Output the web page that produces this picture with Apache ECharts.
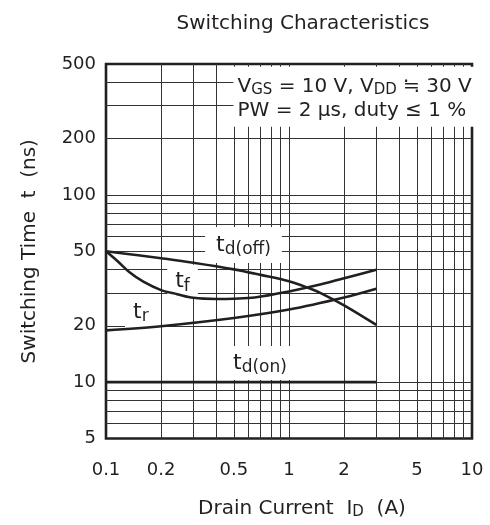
<!DOCTYPE html>
<html>
<head>
<meta charset="utf-8">
<script src="https://cdn.jsdelivr.net/npm/echarts@6/dist/echarts.min.js"></script>
<style>
html, body { margin: 0; padding: 0; background: #fff; }
#chart { width: 490px; height: 525px; }
</style>
</head>
<body>
<div id="chart"></div>
<script>
// values (x: drain current A, y: time ns)
const tdOffX = [0.1, 0.15, 0.2, 0.3, 0.5, 0.7, 1, 1.3, 1.5, 2, 3];
const tdOffY = [50, 47.6, 45.9, 43.4, 40, 37.4, 34.6, 31.6, 29.8, 25.7, 20.2];
const tfX = [0.1, 0.115, 0.135, 0.16, 0.2, 0.245, 0.3, 0.4, 0.5, 0.65, 1, 1.5, 2, 3];
const tfY = [50, 44.5, 38.5, 34.4, 31, 29.5, 28.2, 27.8, 27.9, 28.3, 30.5, 33.3, 35.9, 39.8];
const trX = [0.1, 0.2, 0.5, 1, 2, 3];
const trY = [18.9, 19.9, 22, 24.4, 28.3, 31.5];
const tdOnX = [0.1, 3];
const tdOnY = [10, 10];

const xTicks = [0.1, 0.2, 0.5, 1, 2, 5, 10];
const yTicks = [5, 10, 20, 50, 100, 200, 500];
const xGrid = [0.2, 0.3, 0.4, 0.5, 0.6, 0.7, 0.8, 0.9, 1, 2, 3, 4, 5, 6, 7, 8, 9];
const yGrid = [6, 7, 8, 9, 10, 20, 30, 40, 50, 60, 70, 80, 90, 100, 200, 300, 400];

const ink = '#231f20';
const font = 'DejaVu Sans';

function pairs(xs, ys) {
    return xs.map((x, i) => [x, ys[i]]);
}

function curve(name, xs, ys, smooth) {
    return {
        name: name,
        type: 'line',
        z: 4,
        smooth: smooth,
        showSymbol: false,
        silent: true,
        lineStyle: { color: ink, width: 2.6 },
        data: pairs(xs, ys)
    };
}

// t with a subscript, white box behind it
function tLabel(coord, sub, pad) {
    return {
        coord: coord,
        label: {
            show: true,
            position: 'inside',
            formatter: '{t|t}{s|' + sub + '}',
            backgroundColor: '#fff',
            padding: pad,
            rich: {
                t: { fontFamily: font, fontSize: 22, color: ink, lineHeight: 26 },
                s: { fontFamily: font, fontSize: 17, color: ink, lineHeight: 18, padding: [9, 0, 0, 0] }
            }
        }
    };
}

const chart = echarts.init(document.getElementById('chart'));
const option = {
    animation: false,
    backgroundColor: '#fff',
    title: {
        text: 'Switching Characteristics',
        left: 303,
        top: 14,
        padding: 0,
        textAlign: 'center',
        textStyle: { fontFamily: font, fontSize: 20, fontWeight: 'normal', color: ink }
    },
    grid: {
        left: 106,
        right: 18,
        top: 64,
        bottom: 83.5,
        show: true,
        borderColor: ink,
        borderWidth: 2.6
    },
    xAxis: {
        type: 'log',
        logBase: 10,
        min: 0.1,
        max: 10,
        name: '{n|Drain Current  I}{s|D}{n|  (A)}',
        nameLocation: 'middle',
        nameGap: 58,
        nameTextStyle: {
            padding: [0, 0, 0, 26],
            rich: {
                n: { fontFamily: font, fontSize: 20, color: ink, lineHeight: 24 },
                s: { fontFamily: font, fontSize: 15, color: ink, lineHeight: 16, padding: [8, 0, 0, 0] }
            }
        },
        axisLine: { show: false },
        axisTick: { show: false },
        splitLine: { show: false },
        axisLabel: {
            customValues: xTicks,
            margin: 23,
            fontFamily: font,
            fontSize: 18,
            color: ink,
            formatter: v => String(v)
        }
    },
    yAxis: {
        type: 'log',
        logBase: 10,
        min: 5,
        max: 500,
        name: 'Switching Time  t  (ns)',
        nameLocation: 'middle',
        nameGap: 66,
        nameTextStyle: { fontFamily: font, fontSize: 20, color: ink },
        axisLine: { show: false },
        axisTick: { show: false },
        splitLine: { show: false },
        axisLabel: {
            customValues: yTicks,
            margin: 10,
            fontFamily: font,
            fontSize: 18,
            color: ink,
            formatter: v => String(v)
        }
    },
    series: [
        {
            name: 'grid',
            type: 'line',
            z: 1,
            silent: true,
            data: [],
            markLine: {
                z: 1,
                silent: true,
                animation: false,
                symbol: ['none', 'none'],
                label: { show: false },
                lineStyle: { color: '#333', width: 1, type: 'solid' },
                data: xGrid.map(v => ({ xAxis: v })).concat(yGrid.map(v => ({ yAxis: v })))
            }
        },
        {
            name: 'labels',
            type: 'line',
            z: 3,
            silent: true,
            data: [],
            markPoint: {
                z: 3,
                silent: true,
                animation: false,
                symbol: 'rect',
                symbolSize: 1,
                itemStyle: { color: 'rgba(0,0,0,0)' },
                data: [
                    tLabel([0.564, 54], 'd(off)', [5, 11, 5, 11]),
                    tLabel([0.262, 34.4], 'f', [4, 8, 4, 8]),
                    tLabel([0.155, 23.7], 'r', [3, 8, 3, 8]),
                    tLabel([0.694, 12.64], 'd(on)', [4, 8, 4, 8]),
                    {
                        coord: [0.494, 334],
                        label: {
                            show: true,
                            position: 'right',
                            distance: 0,
                            align: 'left',
                            backgroundColor: '#fff',
                            padding: [8, 4, 4, 4],
                            formatter: '{v|V}{s|GS}{v| = 10 V, V}{s|DD}{v| \u2252 30 V}\n{v|PW = 2 \u03bcs, duty \u2264 1 %}',
                            rich: {
                                v: { fontFamily: font, fontSize: 20, color: ink, lineHeight: 24 },
                                s: { fontFamily: font, fontSize: 15, color: ink, lineHeight: 16, padding: [7, 0, 0, 0] }
                            }
                        }
                    }
                ]
            }
        },
        curve('td(off)', tdOffX, tdOffY, 0.35),
        curve('tf', tfX, tfY, 0.35),
        curve('tr', trX, trY, 0.35),
        curve('td(on)', tdOnX, tdOnY, false)
    ]
};
chart.setOption(option);
</script>
</body>
</html>
